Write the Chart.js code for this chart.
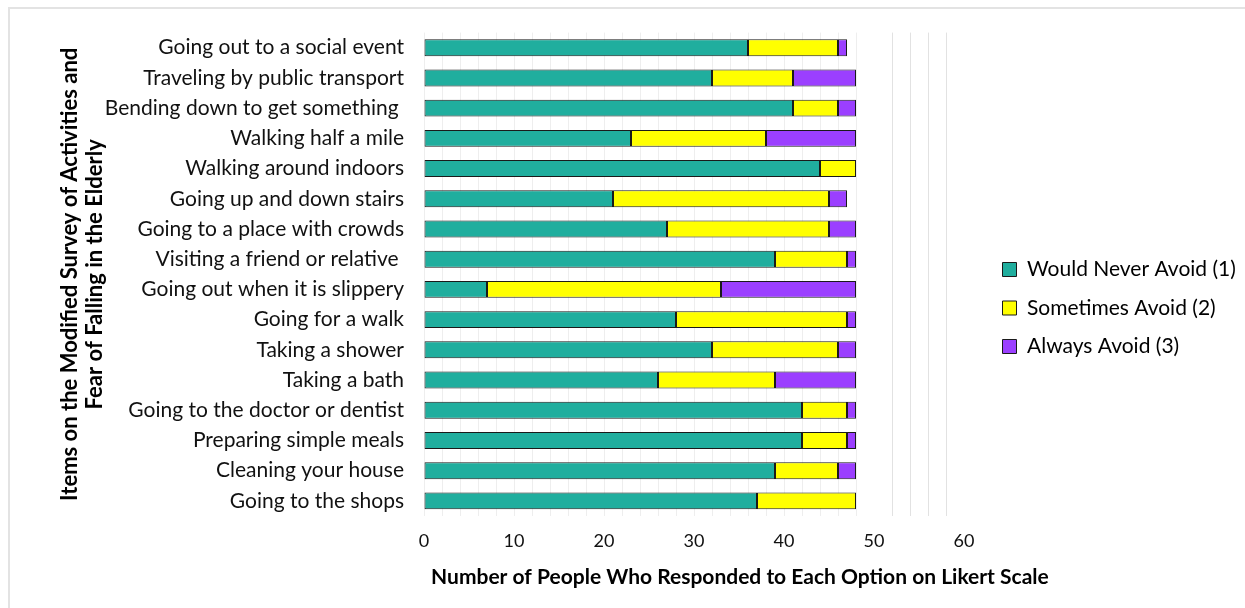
<!DOCTYPE html>
<html>
<head>
<meta charset="utf-8">
<script src="https://cdn.jsdelivr.net/npm/chart.js@4.4.0/dist/chart.umd.min.js"></script>
<style>
  html, body { margin: 0; padding: 0; background: #fff; }
  #wrap { position: relative; width: 1245px; height: 608px; }
  #frame { position: absolute; left: 8px; top: 7px; right: -2px; bottom: -2px; border-top: 2px solid #e3e3e3; border-left: 2px solid #e3e3e3; pointer-events: none; }
  canvas { position: absolute; left: 0; top: 0; }
</style>
</head>
<body>
<div id="wrap">
  <canvas id="c" width="1245" height="608"></canvas>
  <div id="frame"></div>
</div>
<script>
const categories = [
  "Going out to a social event",
  "Traveling by public transport",
  "Bending down to get something ",
  "Walking half a mile",
  "Walking around indoors",
  "Going up and down stairs",
  "Going to a place with crowds",
  "Visiting a friend or relative ",
  "Going out when it is slippery",
  "Going for a walk",
  "Taking a shower",
  "Taking a bath",
  "Going to the doctor or dentist",
  "Preparing simple meals",
  "Cleaning your house",
  "Going to the shops"
];
const seriesNames = ["Would Never Avoid (1)", "Sometimes Avoid (2)", "Always Avoid (3)"];
const neverAvoid     = [36, 32, 41, 23, 44, 21, 27, 39,  7, 28, 32, 26, 42, 42, 39, 37];
const sometimesAvoid = [10,  9,  5, 15,  4, 24, 18,  8, 26, 19, 14, 13,  5,  5,  7, 11];
const alwaysAvoid    = [ 1,  7,  2, 10,  0,  2,  3,  1, 15,  1,  2,  9,  1,  1,  2,  0];
const xTickLabels = [0, 10, 20, 30, 40, 50, 60];
const xAxisTitle = "Number of People Who Responded to Each Option on Likert Scale";
const yAxisTitle = ["Items on the Modified Survey of Activities and", "Fear of Falling in the Elderly"];

const colors = ["#20AE9E", "#FFFF00", "#9B3FFF"];
const FONT = "Lato, 'Open Sans', sans-serif";

const xTitlePlugin = {
  id: 'xTitlePlugin',
  afterDraw(chart) {
    const ctx = chart.ctx;
    const xs = chart.scales.x;
    ctx.save();
    ctx.font = "bold 21px " + FONT;
    ctx.fillStyle = "#000";
    ctx.textAlign = "center";
    ctx.textBaseline = "middle";
    ctx.fillText(xAxisTitle, xs.getPixelForValue(35.1), 577);
    ctx.restore();
  }
};

new Chart(document.getElementById('c'), {
  type: 'bar',
  data: {
    labels: categories,
    datasets: [neverAvoid, sometimesAvoid, alwaysAvoid].map((d, i) => ({
      label: seriesNames[i],
      data: d,
      backgroundColor: colors[i],
      borderColor: "#1a1a1a",
      borderWidth: 1,
      borderSkipped: false,
      categoryPercentage: 1,
      barPercentage: 0.56
    }))
  },
  options: {
    indexAxis: 'y',
    responsive: false,
    animation: false,
    layout: { padding: { left: 57, top: 28, bottom: 20, right: 0 } },
    plugins: {
      legend: {
        position: 'right',
        maxWidth: 260,
        labels: {
          boxWidth: 14,
          boxHeight: 14,
          padding: 17.5,
          color: "#000",
          font: { family: FONT, size: 21 }
        }
      },
      tooltip: { enabled: false }
    },
    scales: {
      x: {
        stacked: true,
        min: 0,
        max: 60,
        border: { display: false },
        afterFit: (s) => { s.height = 72; },
        grid: {
          drawTicks: false,
          lineWidth: 1,
          color: (ctx) => {
            const v = ctx.tick ? ctx.tick.value : 0;
            if (v === 50 || v === 60) return 'rgba(0,0,0,0)';
            return v > 48 ? "#e2e2e2" : "#eeeeee";
          }
        },
        ticks: {
          stepSize: 2,
          autoSkip: false,
          maxRotation: 0,
          padding: 14,
          color: "#111",
          font: { family: FONT, size: 18 },
          callback: (v) => xTickLabels.includes(v) ? String(v) : ""
        }
      },
      y: {
        stacked: true,
        border: { display: false },
        grid: { display: false, drawTicks: false },
        afterFit: (s) => { s.width = 367; },
        ticks: {
          padding: 20,
          autoSkip: false,
          color: "#111",
          font: { family: FONT, size: 21 }
        },
        title: {
          display: true,
          text: yAxisTitle,
          color: "#000",
          padding: { top: 0, bottom: 0 },
          font: { family: FONT, size: 22, weight: 'bold', lineHeight: 1.14 }
        }
      },
      gap: {
        type: 'category',
        position: 'right',
        display: true,
        border: { display: false },
        grid: { display: false, drawTicks: false },
        ticks: { display: false },
        afterFit: (s) => { s.width = 21; }
      }
    }
  },
  plugins: [xTitlePlugin]
});
</script>
</body>
</html>
